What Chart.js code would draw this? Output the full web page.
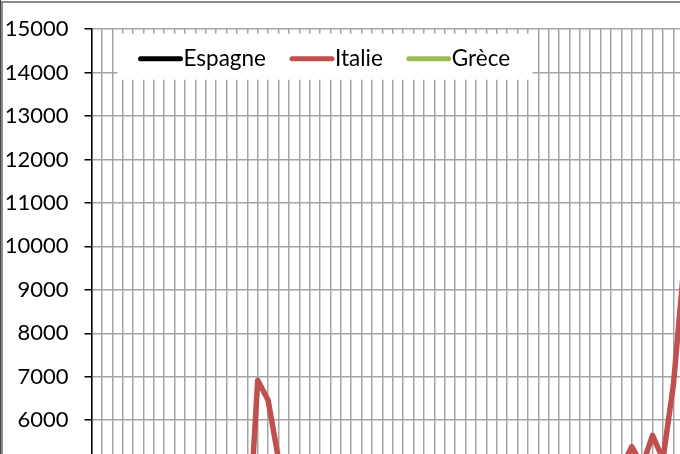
<!DOCTYPE html>
<html>
<head>
<meta charset="utf-8">
<script src="https://cdn.jsdelivr.net/npm/chart.js@4.4.1/dist/chart.umd.min.js"></script>
<style>
    html, body { margin: 0; padding: 0; background: #fff; overflow: hidden; }
    #wrap { position: absolute; left: 0; top: 0; width: 720px; height: 710px; }
    #frame { position: absolute; left: 1px; top: 1px; width: 900px; height: 900px;
             border-top: 2px solid #8c8c8c; border-left: 2px solid #8c8c8c; pointer-events: none; }
    #edge { position: absolute; left: 0; top: 0; width: 1px; height: 900px; background: #444; }
</style>
</head>
<body>
<div id="wrap"><canvas id="chart" width="720" height="710"></canvas></div>
<div id="frame"></div>
<div id="edge"></div>
<script>
// categories (only part of the axis is visible in the picture)
const labels = [
    '1', '2', '3', '4', '5', '6', '7', '8', '9', '10',
    '11', '12', '13', '14', '15', '16', '17', '18', '19', '20',
    '21', '22', '23', '24', '25', '26', '27', '28', '29', '30',
    '31', '32', '33', '34', '35', '36', '37', '38', '39', '40',
    '41', '42', '43', '44', '45', '46', '47', '48', '49', '50',
    '51', '52', '53', '54', '55', '56', '57', '58', '59', '60'
];

const espagne = [
    2100, 2250, 2180, 2400, 2600, 2500, 2350, 2700, 2900, 2650,
    2500, 2300, 2450, 2200, 2050, 2000, 3100, 2950, 2600, 2800,
    2650, 2500, 2700, 2850, 2750, 2600, 2450, 2550, 2750, 2950,
    2850, 2700, 2600, 2800, 3000, 3150, 3000, 2850, 3000, 3200,
    3100, 2950, 3050, 3250, 3400, 3200, 3300, 3250, 3400, 3500,
    3600, 3700, 3900, 3650, 4000, 3800, 4300, 4600, 4700, 4500
];

const italie = [
    3200, 3350, 3100, 3500, 3800, 3600, 3400, 3900, 4100, 3700,
    3500, 3300, 3600, 3200, 3000, 2900, 6920, 6460, 5100, 4700,
    4300, 3900, 4100, 3800, 3600, 3900, 4200, 4000, 3700, 3500,
    3800, 4100, 4400, 4200, 3900, 3700, 4000, 4300, 4500, 4200,
    4000, 4300, 4600, 4400, 4100, 4300, 4600, 4800, 4500, 4700,
    4600, 4900, 5390, 4950, 5650, 5100, 6800, 9500, 10800, 9900
];

const grece = [
    900, 950, 880, 1000, 1100, 1050, 980, 1150, 1250, 1100,
    1000, 950, 1050, 900, 850, 800, 1500, 1400, 1200, 1300,
    1200, 1100, 1250, 1350, 1300, 1200, 1150, 1250, 1350, 1450,
    1400, 1300, 1250, 1350, 1450, 1550, 1500, 1400, 1450, 1550,
    1500, 1450, 1500, 1600, 1700, 1600, 1650, 1600, 1700, 1750,
    1800, 1850, 1950, 1800, 2000, 1900, 2300, 2700, 2900, 2800
];

const yTicks = { min: 0, max: 15000, step: 1000 };

const FONT = 'Lato, "Open Sans", sans-serif';

// legend drawn as a white box inside the plot, over the grid
const boxLegend = {
    id: 'boxLegend',
    afterDraw(chart) {
        const ctx = chart.ctx;
        const area = chart.chartArea;
        const left = area.left + 26;
        const top = area.top + 4.5;
        const w = 415, h = 46;
        ctx.save();
        ctx.fillStyle = '#fff';
        ctx.fillRect(left, top, w, h);
        ctx.font = '22.5px ' + FONT;
        ctx.textBaseline = 'middle';
        ctx.lineCap = 'round';
        let x = left + 21;
        const y = top + h / 2 + 2;
        chart.data.datasets.forEach(ds => {
            ctx.strokeStyle = ds.borderColor;
            ctx.lineWidth = 5;
            ctx.beginPath();
            ctx.moveTo(x + 2, y);
            ctx.lineTo(x + 42, y);
            ctx.stroke();
            x += 45;
            ctx.fillStyle = '#000';
            ctx.fillText(ds.label, x, y);
            x += ctx.measureText(ds.label).width + 24;
        });
        ctx.restore();
    }
};

const ctx = document.getElementById('chart').getContext('2d');
new Chart(ctx, {
    type: 'line',
    data: {
        labels: labels,
        datasets: [
            { label: 'Espagne', data: espagne, borderColor: '#000000' },
            { label: 'Italie', data: italie, borderColor: '#C0504D' },
            { label: 'Grèce', data: grece, borderColor: '#9BBB59' }
        ]
    },
    options: {
        responsive: false,
        animation: false,
        layout: { padding: { left: 0, top: 16, right: 15.5, bottom: 19 } },
        elements: {
            line: { borderWidth: 5.5, tension: 0, borderJoinStyle: 'round', borderCapStyle: 'round' },
            point: { radius: 0 }
        },
        plugins: {
            legend: { display: false },
            tooltip: { enabled: false }
        },
        scales: {
            x: {
                offset: false,
                ticks: { display: false },
                grid: { color: '#a3a3a3', lineWidth: 1.5, drawTicks: false, offset: false },
                border: { display: false }
            },
            y: {
                min: yTicks.min,
                max: yTicks.max,
                afterFit(scale) { scale.width = 91.5; },
                ticks: {
                    stepSize: yTicks.step,
                    padding: 16,
                    color: '#000',
                    font: { family: FONT, size: 22 },
                    callback: v => String(v)
                },
                grid: { color: '#a3a3a3', lineWidth: 1.5, tickLength: 7, tickColor: '#000' },
                border: { color: '#000', width: 1.5 }
            }
        }
    },
    plugins: [boxLegend]
});
</script>
</body>
</html>
